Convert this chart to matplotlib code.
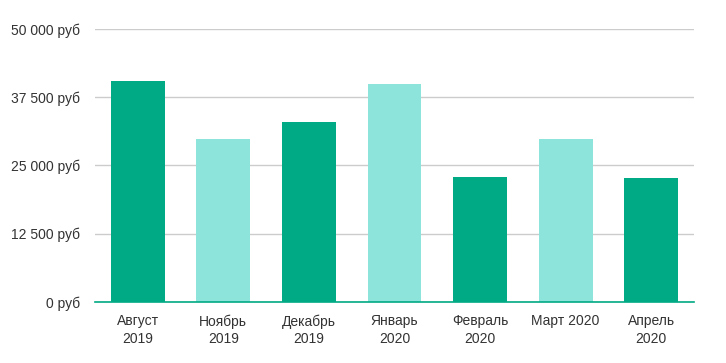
import matplotlib.pyplot as plt

# Данные
months = ["Август\n2019", "Ноябрь\n2019", "Декабрь\n2019", "Январь\n2020",
          "Февраль\n2020", "Март 2020", "Апрель\n2020"]
values = [40400, 29800, 32900, 39900, 22900, 29800, 22700]
colors = ["#00aa85", "#8ce4da", "#00aa85", "#8ce4da", "#00aa85", "#8ce4da", "#00aa85"]
y_ticks = [0, 12500, 25000, 37500, 50000]
y_labels = ["0 руб", "12 500 руб", "25 000 руб", "37 500 руб", "50 000 руб"]

plt.rcParams['font.family'] = ['Liberation Sans', 'DejaVu Sans']

fig = plt.figure(figsize=(7.26, 3.63), dpi=100)
ax = fig.add_axes([95 / 726, 1 - 302 / 363, (694 - 95) / 726, (302 - 29) / 363])

x = range(len(months))
ax.bar(x, values, width=0.63, color=colors, zorder=3)

ax.set_xlim(-0.5, 6.5)
ax.set_ylim(0, 50000)
ax.set_yticks(y_ticks)
ax.set_yticklabels(y_labels)
ax.set_xticks(list(x))
ax.set_xticklabels(months, linespacing=1.3)

ax.grid(axis="y", color="#cccccc", linewidth=1, zorder=0)
for s in ["top", "right", "left"]:
    ax.spines[s].set_visible(False)
ax.spines["bottom"].set_color("#00aa85")
ax.spines["bottom"].set_linewidth(1.2)
ax.spines["bottom"].set_zorder(4)

ax.tick_params(axis="y", length=0, pad=11, labelsize=10, labelcolor="#333333")
ax.tick_params(axis="x", length=0, pad=9, labelsize=10, labelcolor="#333333")

fig.savefig("out.png", dpi=100)
